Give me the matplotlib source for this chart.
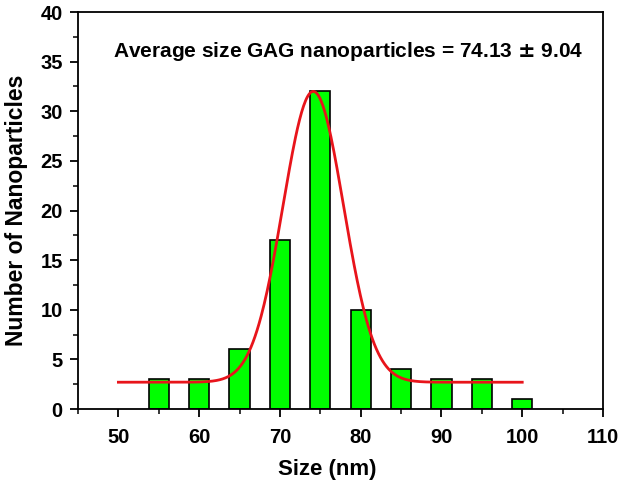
import numpy as np
import matplotlib
matplotlib.use('Agg')
import matplotlib.pyplot as plt
from matplotlib.ticker import MultipleLocator

plt.rcParams['font.family'] = ['Liberation Sans', 'DejaVu Sans']
plt.rcParams['font.weight'] = 'bold'

# histogram data
size_nm = [55, 60, 65, 70, 75, 80, 85, 90, 95, 100]
counts = [3, 3, 6, 17, 32, 10, 4, 3, 3, 1]

# gaussian fit parameters
fit_y0 = 2.7
fit_xc = 74.13
fit_A = 29.3
fit_sigma = 3.75
fit_range = (50, 100)

fig = plt.figure(figsize=(6.25, 4.86), dpi=100)
ax = fig.add_axes([0.1248, 0.1584, 0.84, 0.8169])

ax.bar(size_nm, counts, width=2.5, color='#00ff00', edgecolor='black', linewidth=1.2, zorder=2)

xf = np.linspace(fit_range[0], fit_range[1], 400)
yf = fit_y0 + fit_A * np.exp(-(xf - fit_xc) ** 2 / (2 * fit_sigma ** 2))
ax.plot(xf, yf, color='#e8141b', lw=2, zorder=3)

ax.set_xlim(45, 110)
ax.set_ylim(0, 40)
ax.xaxis.set_major_locator(MultipleLocator(10))
ax.xaxis.set_minor_locator(MultipleLocator(5))
ax.yaxis.set_major_locator(MultipleLocator(5))
ax.yaxis.set_minor_locator(MultipleLocator(2.5))
ax.tick_params(which='major', direction='out', length=6, width=1.3, labelsize=14.5)
ax.tick_params(which='minor', direction='out', length=3.5, width=1.1)
ax.tick_params(axis='x', pad=8)
ax.tick_params(axis='y', pad=5)
for sp in ax.spines.values():
    sp.set_linewidth(1.3)

ax.set_xlabel('Size (nm)', fontsize=16, fontweight='bold')
ax.xaxis.set_label_coords(0.474, -0.125)
ax.set_ylabel('Number of Nanoparticles', fontsize=16.5, fontweight='bold', labelpad=9)

ax.text(0.515, 0.9, 'Average size GAG nanoparticles = 74.13 $\\pm$ 9.04', transform=ax.transAxes,
        ha='center', va='center', fontsize=15, fontweight='bold')

fig.savefig('out.png', dpi=100)
